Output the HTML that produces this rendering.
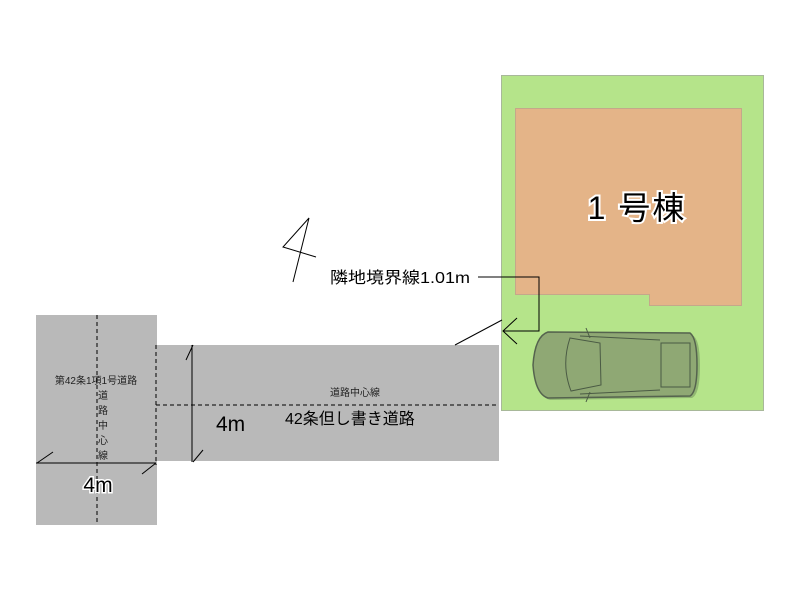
<!DOCTYPE html>
<html><head><meta charset="utf-8"><style>
html,body{margin:0;padding:0;background:#fff;}
svg{display:block;}
text{font-family:"Liberation Sans","Noto Sans CJK JP",sans-serif;}
</style></head><body>
<svg width="800" height="600" viewBox="0 0 800 600" xmlns="http://www.w3.org/2000/svg">
<rect x="36" y="315" width="121" height="210" fill="#b9b9b9"/>
<rect x="156" y="345" width="343" height="116" fill="#b9b9b9"/>
<line x1="97" y1="315" x2="97" y2="525" stroke="#000" stroke-width="1" stroke-dasharray="4,3"/>
<line x1="156" y1="345" x2="156" y2="465" stroke="#000" stroke-width="1" stroke-dasharray="4,3"/>
<line x1="156" y1="405" x2="499" y2="405" stroke="#000" stroke-width="1" stroke-dasharray="4,3"/>
<line x1="192" y1="345" x2="192" y2="462" stroke="#000" stroke-width="1"/>
<line x1="186" y1="360" x2="193" y2="345" stroke="#000"/>
<line x1="193" y1="462" x2="203" y2="450" stroke="#000"/>
<line x1="36" y1="463" x2="156" y2="463" stroke="#000" stroke-width="1"/>
<line x1="37" y1="463" x2="53" y2="452" stroke="#000"/>
<line x1="142" y1="474" x2="156" y2="463" stroke="#000"/>
<text x="96" y="384" font-size="10" text-anchor="middle" fill="#222">第42条1項1号道路</text>
<text x="103" y="399" font-size="10" text-anchor="middle" fill="#222">道</text>
<text x="103" y="414" font-size="10" text-anchor="middle" fill="#222">路</text>
<text x="103" y="429" font-size="10" text-anchor="middle" fill="#222">中</text>
<text x="103" y="444" font-size="10" text-anchor="middle" fill="#222">心</text>
<text x="103" y="459" font-size="10" text-anchor="middle" fill="#222">線</text>
<text x="98" y="492" font-size="21" text-anchor="middle" fill="#000" stroke="#fff" stroke-width="3" paint-order="stroke">4m</text>
<text x="355" y="396" font-size="10" text-anchor="middle" fill="#222">道路中心線</text>
<text x="216" y="431" font-size="21" fill="#000">4m</text>
<text x="285" y="424" font-size="16" fill="#000">42条但し書き道路</text>
<rect x="501.5" y="75.5" width="262" height="335" fill="#b5e48a" stroke="#a8b89a" stroke-width="1"/>
<path d="M515.5 108.5 H741.5 V305.5 H649.5 V294.5 H515.5 Z" fill="#e4b488" stroke="#c4a88a" stroke-width="1"/>
<text x="637" y="219" font-size="32" text-anchor="middle" fill="#000" stroke="#fff" stroke-width="4" paint-order="stroke" letter-spacing="2">1 号棟</text>
<g stroke="#4a5a44" stroke-width="1" fill="none">
<path d="M550 334 Q535 338 533 366 Q535 396 550 400 L692 398 Q700 394 700 366 Q700 338 692 335 Z" fill="#6d8a5a" opacity="0.5" stroke="none"/>
<path d="M548 332 Q535 336 533 365 Q535 394 548 398 L690 396 Q697 392 697 365 Q697 338 690 333 Z" fill="#8fa874" stroke="#55634e" stroke-width="1.5"/>
<path d="M570 338 L600 343 L601 385 L571 391 Q561 365 570 338 Z"/>
<path d="M661 343 L690 343 L690 387 L661 387 Z"/>
<line x1="580" y1="336" x2="660" y2="340"/>
<line x1="580" y1="394" x2="660" y2="390"/>
<line x1="586" y1="328" x2="590" y2="338"/>
<line x1="586" y1="402" x2="590" y2="392"/>
</g>
<text x="330" y="283" font-size="16" fill="#000" textLength="140" lengthAdjust="spacingAndGlyphs">隣地境界線1.01m</text>
<polyline points="478,277 539,277 539,331 503,331" fill="none" stroke="#000" stroke-width="1"/>
<polyline points="517,318 503,331 517,344" fill="none" stroke="#000" stroke-width="1"/>
<line x1="455" y1="345" x2="502" y2="320" stroke="#000" stroke-width="1"/>
<polyline points="293,282 309,218 283,247 316,257" fill="none" stroke="#000" stroke-width="1"/>
</svg>
</body></html>
